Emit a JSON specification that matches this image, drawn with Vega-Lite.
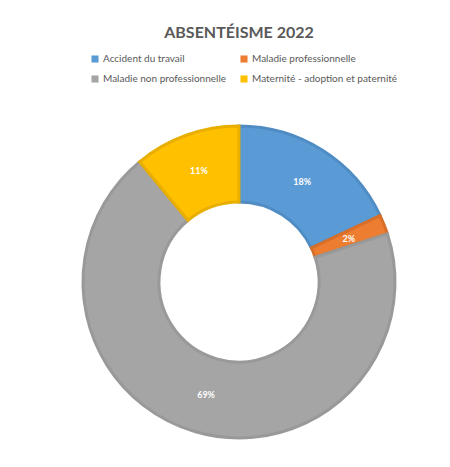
{
  "$schema": "https://vega.github.io/schema/vega-lite/v6.json",
  "autosize": {"type": "none"},
  "width": 314,
  "height": 314,
  "padding": {"left": 82, "top": 125, "right": 54, "bottom": 28},
  "background": "white",
  "title": {
    "text": "ABSENTÉISME 2022",
    "font": "Lato",
    "fontSize": 16,
    "fontWeight": "bold",
    "color": "#595959",
    "anchor": "middle",
    "offset": 13
  },
  "data": {
    "values": [
      {"cat": "Accident du travail", "order": 1, "pct": 18, "label": "18%"},
      {"cat": "Maladie professionnelle", "order": 2, "pct": 2, "label": "2%"},
      {"cat": "Maladie non professionnelle", "order": 3, "pct": 69, "label": "69%"},
      {"cat": "Maternité - adoption et paternité", "order": 4, "pct": 11, "label": "11%"}
    ]
  },
  "encoding": {
    "theta": {"field": "pct", "type": "quantitative", "stack": true},
    "order": {"field": "order", "type": "quantitative"}
  },
  "layer": [
    {
      "mark": {"type": "arc", "outerRadius": 156, "innerRadius": 80, "strokeWidth": 3},
      "encoding": {
        "color": {
          "field": "cat",
          "type": "nominal",
          "sort": ["Accident du travail", "Maladie professionnelle", "Maladie non professionnelle", "Maternité - adoption et paternité"],
          "scale": {
            "domain": ["Accident du travail", "Maladie professionnelle", "Maladie non professionnelle", "Maternité - adoption et paternité"],
            "range": ["#5B9BD5", "#ED7D31", "#A5A5A5", "#FFC000"]
          },
          "legend": {
            "title": null,
            "orient": "none",
            "legendX": 8,
            "legendY": -71,
            "direction": "horizontal",
            "columns": 2,
            "columnPadding": 12,
            "rowPadding": 10,
            "symbolType": "square",
            "symbolSize": 50,
            "symbolStrokeWidth": 0,
            "labelFont": "Lato",
            "labelFontSize": 10,
            "labelColor": "#595959",
            "labelOffset": 3
          }
        },
        "stroke": {
          "field": "cat",
          "type": "nominal",
          "scale": {
            "domain": ["Accident du travail", "Maladie professionnelle", "Maladie non professionnelle", "Maternité - adoption et paternité"],
            "range": ["#508CC4", "#D86F29", "#999999", "#E8AE00"]
          },
          "legend": null
        }
      }
    },
    {
      "mark": {"type": "text", "radius": 118, "color": "white", "font": "Lato", "fontSize": 9, "fontWeight": "bold"},
      "encoding": {
        "text": {"field": "label", "type": "nominal"}
      }
    }
  ],
  "config": {"view": {"stroke": null}}
}
